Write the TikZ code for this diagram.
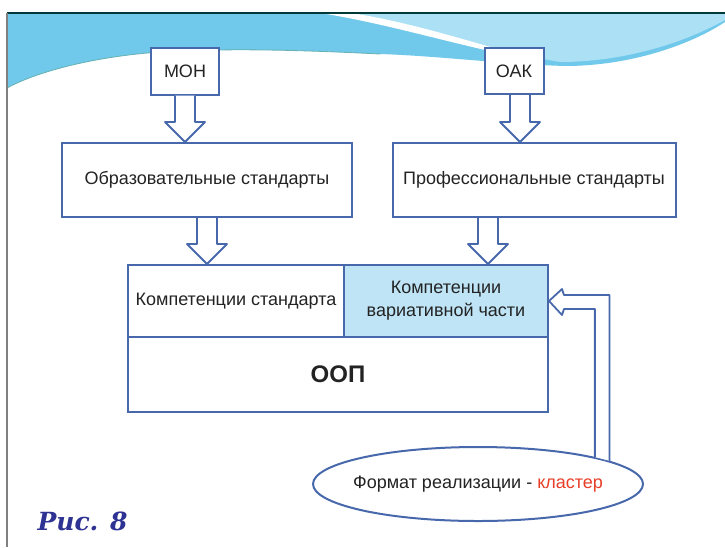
\documentclass[tikz,border=0pt]{standalone}
\usepackage{fontspec}
\setmainfont{Liberation Sans}
\newfontfamily\capfont{DejaVu Serif}
\usetikzlibrary{calc, shapes.geometric}

\definecolor{lineblue}{RGB}{72,104,172}
\definecolor{cellblue}{RGB}{190,228,246}
\definecolor{waveblue}{RGB}{112,200,234}
\definecolor{wavelight}{RGB}{172,224,245}
\definecolor{capblue}{RGB}{46,50,146}
\definecolor{txtgray}{RGB}{35,35,35}
\definecolor{redtxt}{RGB}{232,62,40}

% hollow block arrow pointing down, from #1 to the top of node #2
\newcommand{\vArrow}[2]{%
  \draw[hollow] let \p1=(#1), \p2=(#2) in
    (\x1-10pt,\y1) -- (\x1-10pt,\y2+20pt) -- (\x1-20pt,\y2+20pt) -- (\x1,\y2)
    -- (\x1+20pt,\y2+20pt) -- (\x1+10pt,\y2+20pt) -- (\x1+10pt,\y1);}

\begin{document}
\begin{tikzpicture}[x=1pt, y=-1pt,
    box/.style={draw=lineblue, line width=2pt, fill=white, text=txtgray,
      inner sep=0pt, font=\fontsize{18}{23}\selectfont},
    hollow/.style={draw=lineblue, line width=1.8pt, fill=white, line join=round}]
  \useasboundingbox (0,0) rectangle (725,547);

  % slide background
  \fill[waveblue] (7,13) -- (725,13) -- (725,22)
    .. controls (690,45) and (630,66) .. (565,66)
    .. controls (500,64) and (440,56) .. (380,54)
    .. controls (300,50) and (230,48) .. (160,52)
    .. controls (100,56) and (40,70) .. (7,88) -- cycle;
  \fill[wavelight] (330,13) -- (725,13) -- (725,20)
    .. controls (680,45) and (620,62) .. (560,62)
    .. controls (500,52) and (430,30) .. (330,13);
  \fill[white] (320,13) .. controls (390,24) and (450,44) .. (545,63)
    .. controls (460,38) and (400,20) .. (350,13) -- cycle;
  \draw[teal!60, line width=0.8pt] (7,88) .. controls (40,70) and (100,56) .. (160,52)
    .. controls (230,48) and (300,50) .. (380,54);
  \draw[black!55!teal, line width=1.5pt] (7,13) -- (725,13);
  \draw[gray, line width=1.5pt] (7,13) -- (7,547);

  % boxes
  \node[box, minimum width=68pt, minimum height=47pt] (moh) at (185,71) {МОН};
  \node[box, minimum width=59pt, minimum height=46pt] (oak) at (514,71) {ОАК};
  \node[box, minimum width=290pt, minimum height=74pt] (obr) at (207,180) {Образовательные стандарты};
  \node[box, minimum width=283pt, minimum height=74pt] (prof) at (534,180) {Профессиональные стандарты};

  \node[box, minimum width=216pt, minimum height=72pt] (std) at (236,301) {Компетенции стандарта};
  \node[box, fill=cellblue, minimum width=204pt, minimum height=72pt, align=center] (var) at (446,301)
    {Компетенции\\вариативной части};
  \node[box, minimum width=420pt, minimum height=75pt, font=\fontsize{24}{28}\selectfont\bfseries] (oop) at (338,374) {ООП};

  \node[box, ellipse, inner xsep=-11pt, minimum width=330pt, minimum height=74pt] (fmt) at (478,484)
    {Формат реализации - \textcolor{redtxt}{кластер}};

  % arrows
  \vArrow{moh.south}{obr.north}
  \vArrow{[xshift=6pt]oak.south}{prof.north}
  \vArrow{obr.south}{std.north}
  \vArrow{[xshift=-46pt]prof.south}{var.north}

  \draw[hollow] let \p1=(var.east), \p2=(fmt.10), \p3=(fmt.13) in
    (\p2) -- (\x2,\y1+6pt) -- (\x1+15pt,\y1+6pt) -- (\x1+13pt,\y1+12pt) -- (\p1)
    -- (\x1+13pt,\y1-14pt) -- (\x1+15pt,\y1-8pt) -- (\x3,\y1-8pt) -- (\p3);

  \node[anchor=base west, text=capblue, font=\capfont\bfseries\itshape\fontsize{25}{30}\selectfont]
    (cap) at (34,530) {Рис. 8};
\end{tikzpicture}
\end{document}
